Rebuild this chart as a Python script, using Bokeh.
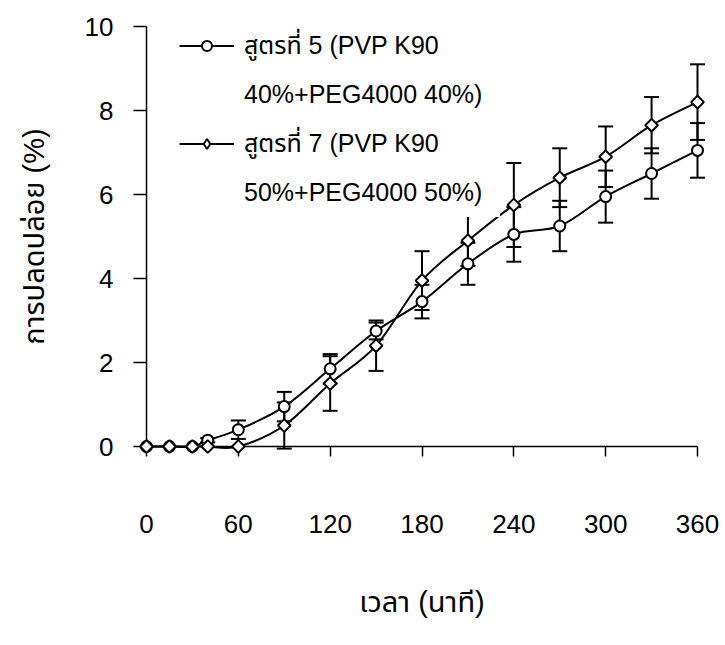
from bokeh.plotting import figure
from bokeh.models import Range1d, ColumnDataSource, Legend, LegendItem
from bokeh.embed import file_html
from bokeh.resources import INLINE

# ---------------- data ----------------
time_min = [0, 15, 30, 40, 60, 90, 120, 150, 180, 210, 240, 270, 300, 330, 360]
f5_release = [0, 0, 0, 0.15, 0.4, 0.95, 1.85, 2.75, 3.45, 4.35, 5.05, 5.25, 5.95, 6.5, 7.05]
f5_sd = [0, 0, 0, 0.05, 0.22, 0.35, 0.35, 0.2, 0.4, 0.5, 0.65, 0.6, 0.62, 0.6, 0.65]
f7_release = [0, 0, 0, 0, 0, 0.5, 1.5, 2.4, 3.95, 4.9, 5.75, 6.4, 6.9, 7.65, 8.2]
f7_sd = [0, 0, 0, 0, 0, 0.55, 0.65, 0.6, 0.7, 0.6, 1.0, 0.7, 0.72, 0.67, 0.9]

x_ticks = [0, 60, 120, 180, 240, 300, 360]
y_ticks = [0, 2, 4, 6, 8, 10]

legend_f5 = ["สูตรที่ 5 (PVP K90", "40%+PEG4000 40%)"]
legend_f7 = ["สูตรที่ 7 (PVP K90", "50%+PEG4000 50%)"]
x_title = "เวลา (นาที)"
y_title = "การปลดปล่อย (%)"

FONT = "Liberation Sans, Noto Sans Thai, Noto Sans, DejaVu Sans, sans-serif"
TOP = "overlay"   # drawn without clipping to the frame edges


def smooth_segments(xs, ys):
    """Catmull-Rom style cubic Bezier segments through the data points."""
    n = len(xs)
    d = dict(x0=[], y0=[], x1=[], y1=[], cx0=[], cy0=[], cx1=[], cy1=[])
    for i in range(n - 1):
        ip = max(i - 1, 0)
        inn = min(i + 2, n - 1)
        d["x0"].append(xs[i]); d["y0"].append(ys[i])
        d["x1"].append(xs[i + 1]); d["y1"].append(ys[i + 1])
        d["cx0"].append(xs[i] + (xs[i + 1] - xs[ip]) / 6)
        d["cy0"].append(ys[i] + (ys[i + 1] - ys[ip]) / 6)
        d["cx1"].append(xs[i + 1] - (xs[inn] - xs[i]) / 6)
        d["cy1"].append(ys[i + 1] - (ys[inn] - ys[i]) / 6)
    return ColumnDataSource(d)


def err_source(xs, ys, es):
    keep = [(x, y, e) for x, y, e in zip(xs, ys, es) if e > 0]
    return ColumnDataSource(dict(
        x=[k[0] for k in keep],
        lo=[k[1] - k[2] for k in keep],
        hi=[k[1] + k[2] for k in keep],
    ))


p = figure(
    width=725, height=645,
    x_range=Range1d(0, 360), y_range=Range1d(0, 10),
    output_backend="svg", toolbar_location=None,
    min_border_left=146, min_border_right=28, min_border_top=26, min_border_bottom=199,
)
p.outline_line_color = None
p.grid.visible = False
p.background_fill_color = "white"
p.border_fill_color = "white"

# error bars (vertical line + caps)
for ys, es in [(f5_release, f5_sd), (f7_release, f7_sd)]:
    src = err_source(time_min, ys, es)
    p.segment(x0="x", y0="lo", x1="x", y1="hi", source=src,
              line_color="black", line_width=2, level=TOP)
    p.scatter(x="x", y="lo", source=src, marker="dash", size=15,
              line_color="black", line_width=2, level=TOP)
    p.scatter(x="x", y="hi", source=src, marker="dash", size=15,
              line_color="black", line_width=2, level=TOP)

# smoothed lines
bez = []
for ys in (f5_release, f7_release):
    bez.append(p.bezier(x0="x0", y0="y0", x1="x1", y1="y1", cx0="cx0", cy0="cy0",
                        cx1="cx1", cy1="cy1", source=smooth_segments(time_min, ys),
                        line_color="black", line_width=2, level=TOP))

# markers
sc5 = p.scatter(time_min, f5_release, marker="circle", size=11,
                fill_color="white", line_color="black", line_width=2, level=TOP)
sc7 = p.scatter(time_min, f7_release, marker="square", angle=0.785398, size=9,
                fill_color="white", line_color="black", line_width=2, level=TOP)
# diamond sample used only by the legend (hidden in the plot)
sc7_leg = p.scatter(time_min, f7_release, marker="diamond", size=12,
                    fill_color="white", line_color="black", line_width=2, visible=False)
blank = p.line(x=[], y=[], line_alpha=0)

legend = Legend(
    items=[
        LegendItem(label=legend_f5[0], renderers=[bez[0], sc5]),
        LegendItem(label=legend_f5[1], renderers=[blank]),
        LegendItem(label=legend_f7[0], renderers=[bez[1], sc7_leg]),
        LegendItem(label=legend_f7[1], renderers=[blank]),
    ],
    location=(33, 229),
    glyph_width=55, glyph_height=25, label_height=49, label_width=256,
    label_standoff=10, spacing=0, padding=5, margin=0,
    label_text_font=FONT, label_text_font_size="25px", label_text_color="black",
    background_fill_color="white", background_fill_alpha=1.0,
    border_line_color=None, inactive_fill_alpha=0.0,
)
legend.level = "overlay"
p.add_layout(legend)

# axes
xa = p.xaxis[0]
xa.ticker = x_ticks
xa.minor_tick_line_color = None
xa.major_tick_in = 0
xa.major_tick_out = 10
xa.axis_line_width = 1.5
xa.major_tick_line_width = 1.5
xa.axis_line_color = "black"
xa.major_tick_line_color = "black"
xa.major_label_standoff = 58
xa.major_label_text_font = FONT
xa.major_label_text_font_size = "26px"
xa.major_label_text_color = "black"
xa.axis_label = x_title
xa.axis_label_text_font = FONT
xa.axis_label_text_font_size = "29px"
xa.axis_label_text_font_style = "normal"
xa.axis_label_text_color = "black"
xa.axis_label_standoff = 50

ya = p.yaxis[0]
ya.ticker = y_ticks
ya.minor_tick_line_color = None
ya.major_tick_in = 0
ya.major_tick_out = 13
ya.axis_line_width = 1.5
ya.major_tick_line_width = 1.5
ya.axis_line_color = "black"
ya.major_tick_line_color = "black"
ya.major_label_standoff = 20
ya.major_label_text_font = FONT
ya.major_label_text_font_size = "26px"
ya.major_label_text_color = "black"
ya.axis_label = y_title
ya.axis_label_text_font = FONT
ya.axis_label_text_font_size = "29px"
ya.axis_label_text_font_style = "normal"
ya.axis_label_text_color = "black"
ya.axis_label_standoff = 32

open("out.html", "w").write(file_html(p, INLINE))
